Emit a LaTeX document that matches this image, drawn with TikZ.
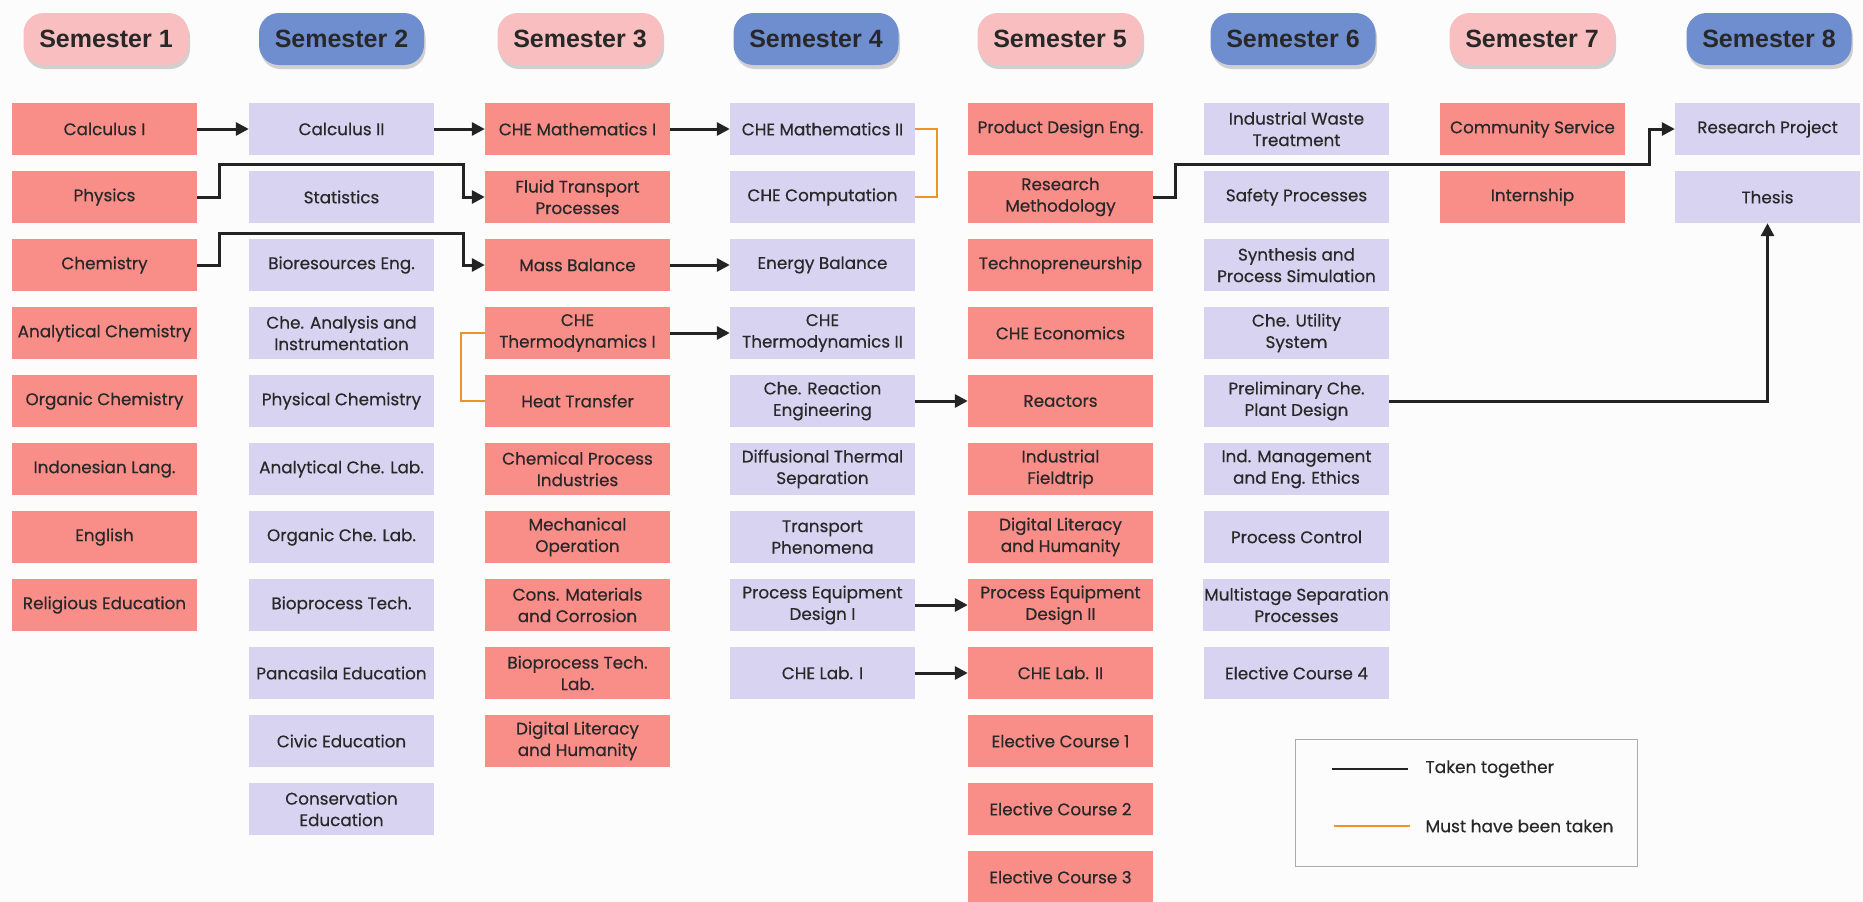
\documentclass[tikz,border=0pt]{standalone}
\usepackage{fontspec}
\setmainfont{Poppins}
\newfontfamily\cfont{Poppins}[FakeBold=0.45]
\newfontfamily\hdfont{Liberation Sans}
\usetikzlibrary{arrows.meta,shadows}
\definecolor{bgc}{RGB}{252,252,253}
\definecolor{salmon}{RGB}{249,141,136}
\definecolor{lav}{RGB}{216,211,240}
\definecolor{hpink}{RGB}{249,190,192}
\definecolor{hblue}{RGB}{111,142,208}
\definecolor{txt}{RGB}{40,40,40}
\definecolor{lk}{RGB}{35,35,35}
\definecolor{org}{RGB}{238,148,38}
\definecolor{lgd}{RGB}{170,170,175}
\begin{document}
\begin{tikzpicture}[x=1pt,y=-1pt,
  box/.style={minimum width=185pt,minimum height=52pt,inner sep=1pt,align=center,
    font=\cfont\fontsize{16.8}{21.5}\selectfont,text=txt},
  sal/.style={box,fill=salmon},
  lav/.style={box,fill=lav},
  hdr/.style={rounded corners=20pt,minimum width=165pt,minimum height=52pt,
    font=\hdfont\bfseries\fontsize{25}{30}\selectfont,text=txt,
    drop shadow={shadow xshift=1.5pt,shadow yshift=-4pt,opacity=0.35}},
  hp/.style={hdr,fill=hpink},
  hb/.style={hdr,fill=hblue},
  tt/.style={line width=3pt,draw=lk,-{Triangle[length=13pt,width=13pt]}},
  mh/.style={line width=2.5pt,draw=org},
  lgtext/.style={anchor=west,font=\cfont\fontsize{17}{20}\selectfont,text=txt}]
\useasboundingbox (0,0) rectangle (1863,902);
\fill[bgc] (0,0) rectangle (1863,902);
% headers
\node[hp] (s1) at (106,39) {Semester 1};
\node[hb] (s2) at (341.5,39) {Semester 2};
\node[hp] (s3) at (580,39) {Semester 3};
\node[hb] (s4) at (816,39) {Semester 4};
\node[hp] (s5) at (1060,39) {Semester 5};
\node[hb] (s6) at (1293,39) {Semester 6};
\node[hp] (s7) at (1532,39) {Semester 7};
\node[hb] (s8) at (1769,39) {Semester 8};
% columns
\foreach \t [count=\i] in {Calculus I,Physics,Chemistry,Analytical Chemistry,Organic Chemistry,Indonesian Lang.,English,Religious Education}
  \node[sal] (a\i) at (104.5,{129+68*(\i-1)}) {\t};
\foreach \t [count=\i] in {Calculus II,Statistics,Bioresources Eng.,Che. Analysis and\\Instrumentation,Physical Chemistry,Analytical Che. Lab.,Organic Che. Lab.,Bioprocess Tech.,Pancasila Education,Civic Education,Conservation\\Education}
  \node[lav] (b\i) at (341.5,{129+68*(\i-1)}) {\t};
\foreach \t [count=\i] in {CHE Mathematics I,Fluid Transport\\Processes,Mass Balance,CHE\\Thermodynamics I,Heat Transfer,Chemical Process\\Industries,Mechanical\\Operation,Cons. Materials\\and Corrosion,Bioprocess Tech.\\Lab.,Digital Literacy\\and Humanity}
  \node[sal] (c\i) at (577.5,{129+68*(\i-1)}) {\t};
\foreach \t [count=\i] in {CHE Mathematics II,CHE Computation,Energy Balance,CHE\\Thermodynamics II,Che. Reaction\\Engineering,Diffusional Thermal\\Separation,Transport\\Phenomena,Process Equipment\\Design I,CHE Lab. I}
  \node[lav] (d\i) at (822.5,{129+68*(\i-1)}) {\t};
\foreach \t [count=\i] in {Product Design Eng.,Research\\Methodology,Technopreneurship,CHE Economics,Reactors,Industrial\\Fieldtrip,Digital Literacy\\and Humanity,Process Equipment\\Design II,CHE Lab. II,Elective Course 1,Elective Course 2,Elective Course 3}
  \node[sal] (e\i) at (1060.5,{129+68*(\i-1)}) {\t};
\foreach \t [count=\i] in {Industrial Waste\\Treatment,Safety Processes,Synthesis and\\Process Simulation,Che. Utility\\System,Preliminary Che.\\Plant Design,Ind. Management\\and Eng. Ethics,Process Control,Multistage Separation\\Processes,Elective Course 4}
  \node[lav] (f\i) at (1296.5,{129+68*(\i-1)}) {\t};
\foreach \t [count=\i] in {Community Service,Internship}
  \node[sal] (g\i) at (1532.5,{129+68*(\i-1)}) {\t};
\foreach \t [count=\i] in {Research Project,Thesis}
  \node[lav] (h\i) at (1767.5,{129+68*(\i-1)}) {\t};
% taken together
\draw[tt] (a1.east) -- (b1.west);
\draw[tt] (b1.east) -- (c1.west);
\draw[tt] (c1.east) -- (d1.west);
\draw[tt] (a2.east) -- ++(22,0) |- ([xshift=-21pt,yshift=33pt]c2.west) |- (c2.west);
\draw[tt] (a3.east) -- ++(22,0) |- ([xshift=-21pt,yshift=32pt]c3.west) |- (c3.west);
\draw[tt] (c3.east) -- (d3.west);
\draw[tt] (c4.east) -- (d4.west);
\draw[tt] (d5.east) -- (e5.west);
\draw[tt] (d8.east) -- (e8.west);
\draw[tt] (d9.east) -- (e9.west);
\draw[tt] (e2.east) -- ++(22,0) |- ([xshift=-25pt,yshift=-35pt]h1.west) |- (h1.west);
\draw[tt] (f5.east) -| (h2.south);
% must have been taken
\draw[mh] (d1.east) -- ++(22,0) |- (d2.east);
\draw[mh] (c4.west) -- ++(-24,0) |- (c5.west);
% legend
\node[draw=lgd,line width=1pt,minimum width=342pt,minimum height=127pt] (lg) at (1466,802.5) {};
\coordinate (la1) at (1332,769);
\coordinate (la2) at (1408,769);
\coordinate (lb1) at (1334,826);
\coordinate (lb2) at (1410,826);
\draw[line width=2.5pt,draw=lk] (la1) -- (la2);
\draw[line width=2.5pt,draw=org] (lb1) -- (lb2);
\node[lgtext] (lt1) at (1422,769) {Taken together};
\node[lgtext] (lt2) at (1422,826) {Must have been taken};
\end{tikzpicture}
\end{document}
